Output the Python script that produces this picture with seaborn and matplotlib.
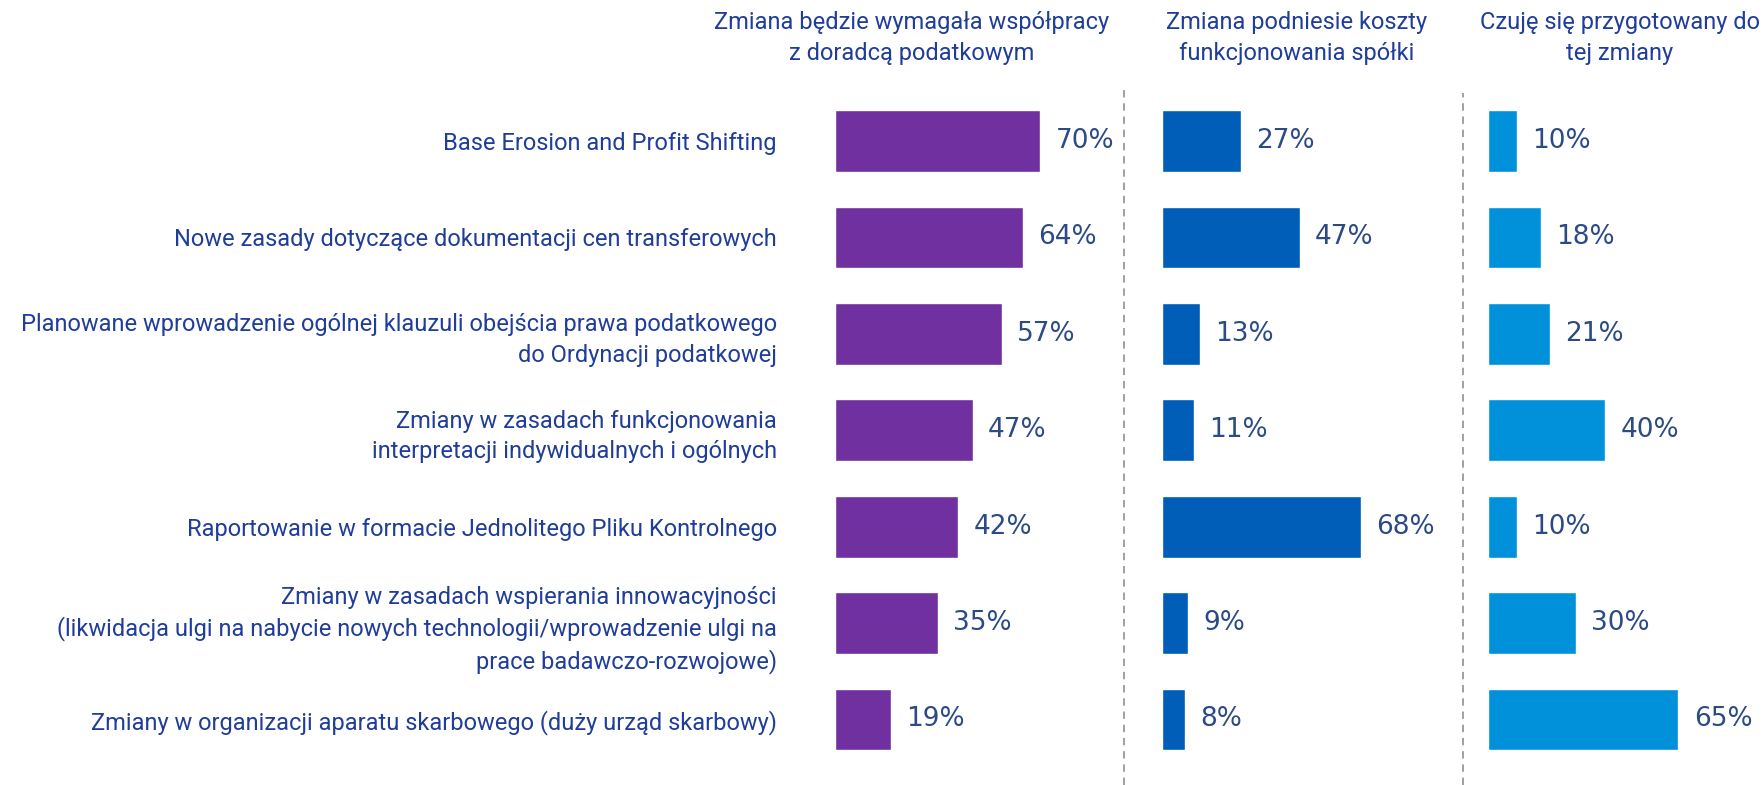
import numpy as np
import pandas as pd
import seaborn as sns
from matplotlib import pyplot as plt
from matplotlib.lines import Line2D

# --- dati ---
categorie = [
    "Base Erosion and Profit Shifting",
    "Nowe zasady dotyczące dokumentacji cen transferowych",
    "Planowane wprowadzenie ogólnej klauzuli obejścia prawa podatkowego\ndo Ordynacji podatkowej",
    "Zmiany w zasadach funkcjonowania\ninterpretacji indywidualnych i ogólnych",
    "Raportowanie w formacie Jednolitego Pliku Kontrolnego",
    "Zmiany w zasadach wspierania innowacyjności\n(likwidacja ulgi na nabycie nowych technologii/wprowadzenie ulgi na\nprace badawczo-rozwojowe)",
    "Zmiany w organizacji aparatu skarbowego (duży urząd skarbowy)",
]
doradca = [70, 64, 57, 47, 42, 35, 19]
koszty = [27, 47, 13, 11, 68, 9, 8]
przygotowany = [10, 18, 21, 40, 10, 30, 65]

tytuly = [
    "Zmiana będzie wymagała współpracy\nz doradcą podatkowym",
    "Zmiana podniesie koszty\nfunkcjonowania spółki",
    "Czuję się przygotowany do\ntej zmiany",
]
kolory = ["#7030A0", "#005EB8", "#0091DA"]

sns.set_style("white")
plt.rcParams['font.family'] = ['Roboto', 'DejaVu Sans']

fig = plt.figure(figsize=(17.65, 7.85), dpi=100)

W, H = 1765, 785
px_per_pct = 2.93
lefts = [835, 1162, 1488]
xmax = 95
bottom = 1 - 767.7 / H
top = 1 - 92.8 / H

serie = [doradca, koszty, przygotowany]
title_x = [912, 1297, 1620]

for i, (vals, col) in enumerate(zip(serie, kolory)):
    ax = fig.add_axes([lefts[i] / W, bottom, xmax * px_per_pct / W, top - bottom])
    df = pd.DataFrame({"kat": categorie, "val": vals})
    sns.barplot(data=df, x="val", y="kat", color=col, saturation=1, width=0.64, ax=ax, orient="h")
    ax.set_xlim(0, xmax)
    ax.set_ylim(6.5, -0.5)
    ax.set_xlabel("")
    ax.set_ylabel("")
    ax.set_xticks([])
    sns.despine(ax=ax, left=True, bottom=True)
    ax.bar_label(ax.containers[0], labels=[f"{v}%" for v in vals], padding=11,
                 fontsize=19, color="#2B4A86", family="DejaVu Sans")
    if i == 0:
        ax.tick_params(axis="y", length=0, pad=42, labelsize=17, labelcolor="#1F3D99")
        for t in ax.get_yticklabels():
            t.set_linespacing(1.4)
    else:
        ax.set_yticks([])
    fig.text(title_x[i] / W, 1 - 38 / H, tytuly[i], ha="center", va="center",
             fontsize=17, color="#1F3D99", linespacing=1.4)

# linie przerywane
for x, y0 in [(1124.5, 88), (1463, 93)]:
    fig.add_artist(Line2D([x / W, x / W], [0, 1 - y0 / H], transform=fig.transFigure,
                          color="#A0A0A0", lw=1.4, dashes=(3.8, 3)))

plt.savefig("out.png", dpi=100)
